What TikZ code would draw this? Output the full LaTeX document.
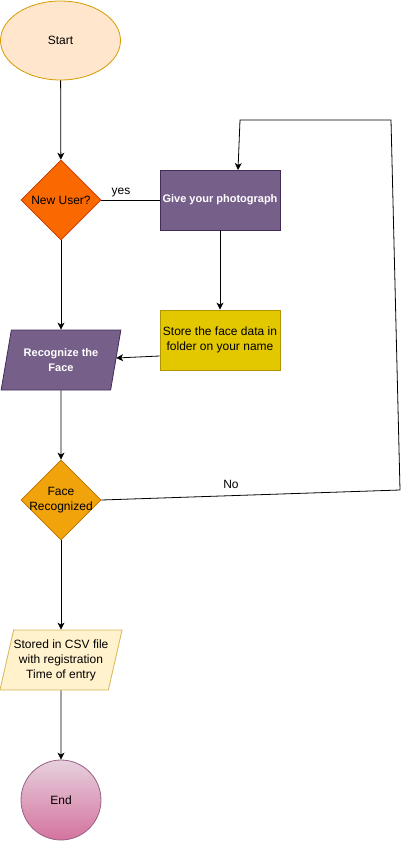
\documentclass[tikz,border=0pt]{standalone}
\usepackage{fontspec}
\setmainfont{Liberation Sans}
\usetikzlibrary{shapes.geometric,arrows.meta}
\definecolor{startfill}{HTML}{FFE6CC}
\definecolor{startdraw}{HTML}{D79B00}
\definecolor{nufill}{HTML}{FA6800}
\definecolor{nudraw}{HTML}{C73500}
\definecolor{purfill}{HTML}{76608A}
\definecolor{purdraw}{HTML}{432D57}
\definecolor{yelfill}{HTML}{E3C800}
\definecolor{yeldraw}{HTML}{B09500}
\definecolor{frfill}{HTML}{F0A30A}
\definecolor{frdraw}{HTML}{BD7000}
\definecolor{csvfill}{HTML}{FFF2CC}
\definecolor{csvdraw}{HTML}{D6B656}
\definecolor{endtop}{HTML}{E6D0DE}
\definecolor{endbot}{HTML}{D5739D}
\definecolor{enddraw}{HTML}{996185}
\tikzset{
  base/.style={font=\fontsize{12}{15}\selectfont, inner sep=0pt, line width=0.8pt, align=center},
  boldtxt/.style={text=white, font=\fontsize{11}{15}\selectfont\bfseries},
  startbox/.style={base, ellipse, draw=startdraw, fill=startfill, minimum width=120pt, minimum height=79pt},
  decision/.style={base, diamond, minimum width=80pt, minimum height=80pt, aspect=1},
  dtext/.style={font=\fontsize{12}{15}\selectfont, inner sep=0pt, align=center},
  procbox/.style={base, rectangle, minimum width=120pt, minimum height=60pt},
  iobox/.style={base, trapezium, trapezium left angle=71.57, trapezium right angle=108.43, trapezium stretches=true, minimum width=120pt, minimum height=60pt},
  endbox/.style={base, circle, draw=enddraw, top color=endtop, bottom color=endbot, minimum size=80pt},
  arr/.style={line width=0.8pt, -{Stealth[length=7pt,width=7pt,inset=2pt]}},
  lin/.style={line width=0.8pt},
  lbl/.style={font=\fontsize{12}{15}\selectfont, inner sep=0pt}
}
\begin{document}
\begin{tikzpicture}[x=1pt,y=-1pt]
\useasboundingbox (0,0) rectangle (402,841);
\node[startbox] (start) at (60.5,40.5) {Start};
\node[decision, draw=nudraw, fill=nufill, label={[dtext]center:New User?}] (newuser) at (61,200) {};
\node[procbox, draw=purdraw, fill=purfill, boldtxt] (photo) at (220,200) {Give your photograph};
\node[procbox, draw=yeldraw, fill=yelfill] (store) at (220,340) {Store the face data in\\folder on your name};
\node[iobox, draw=purdraw, fill=purfill, boldtxt] (recog) at (61,360) {Recognize the\\Face};
\node[decision, draw=frdraw, fill=frfill, label={[dtext]center:Face\\Recognized}] (facerec) at (61,500) {};
\node[iobox, draw=csvdraw, fill=csvfill] (csv) at (61,660) {Stored in CSV file\\with registration\\Time of entry};
\node[endbox] (end) at (61,800) {End};

\coordinate (c1) at (400,490);
\coordinate (c2) at (391,120);
\coordinate (c3) at (240,120);
\coordinate (c4) at (238,170);

\draw[arr] (start) -- (newuser);
\draw[arr] (newuser) -- (recog);
\draw[lin] (newuser.east) -- (photo.west);
\node[lbl] (yes) at (121,193) {yes};
\draw[arr] (photo) -- (store);
\draw[arr] ([yshift=-16pt]store.west) -- ([yshift=2pt]recog.east);
\draw[arr] (recog.south) -- (facerec.north);
\draw[arr] (facerec) -- (csv);
\draw[arr] (csv) -- (end);
\draw[arr] (facerec.east) -- (c1) -- (c2) -- (c3) -- (c4);
\node[lbl] (no) at (231,484) {No};
\end{tikzpicture}
\end{document}
